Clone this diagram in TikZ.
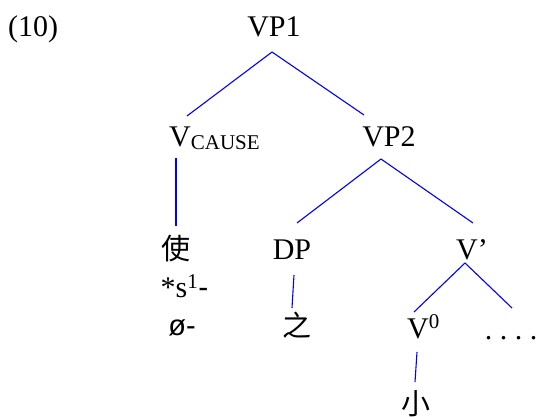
\documentclass[tikz,border=0pt]{standalone}
\usepackage{fontspec}
\setmainfont{Liberation Serif}
\newfontfamily\cjk{Noto Sans CJK SC}
\newfontfamily\arial{Liberation Sans}
\usepackage{tikz}
\usetikzlibrary{calc}
\usetikzlibrary{positioning}

\tikzset{
    lbl/.style={inner sep=0pt, anchor=base, font=\fontsize{30}{36}\selectfont},
    han/.style={inner sep=0pt, anchor=center, font=\fontsize{29}{36}\selectfont\cjk},
    branch/.style={draw=blue, line width=1.1pt}
}

\begin{document}
\begin{tikzpicture}[x=1pt, y=-1pt]
    \useasboundingbox (0,0) rectangle (539,417);

    % Example number
    \node[lbl, anchor=base west] (exnum) at (8,37) {(10)};

    % Phrases
    \node[lbl] (vp1) at (274,37) {VP1};
    \node[lbl, anchor=base west] (vcause) at (169,147) {V\raisebox{-3pt}{\fontsize{21}{24}\selectfont CAUSE}};
    \node[lbl] (vp2) at (389,147) {VP2};
    \node[lbl] (dp) at (292,260) {DP};
    \node[lbl] (vbar) at (472,260) {V’};
    \node[lbl] (v0) at (423.5,338) {V\textsuperscript{0}};
    \node[lbl] (dots) at (511,339) {.\ .\ .\ .};

    % Leaves
    \node[han] (shi) at (176,249) {使};
    \node[lbl] (sone) at (184.5,298) {*s\textsuperscript{1}{\arial -}};
    \node[lbl, font=\fontsize{29}{36}\selectfont\arial] (null) at (182,335) {ø-};
    \node[han] (zhi) at (297,325) {之};
    \node[han] (xiao) at (416,404) {小};

    % Branches
    \draw[branch] ($(vp1.base)+(-2,15)$) -- ($(vcause.base west)+(18,-31)$);
    \draw[branch] ($(vp1.base)+(-2,15)$) -- ($(vp2.base)+(-25,-32)$);
    \draw[branch] ($(vcause.base west)+(7,11)$) -- ($(shi.center)+(0,-23)$);
    \draw[branch] ($(vp2.base)+(-8,12)$) -- ($(dp.base)+(5,-37)$);
    \draw[branch] ($(vp2.base)+(-8,12)$) -- ($(vbar.base)+(1,-37)$);
    \draw[branch] ($(dp.base)+(2,15)$) -- ($(zhi.center)+(-5,-17)$);
    \draw[branch] ($(vbar.base)+(-7,3)$) -- ($(v0.base)+(-9.5,-26)$);
    \draw[branch] ($(vbar.base)+(-7,3)$) -- ($(dots.base)+(1,-31)$);
    \draw[branch] ($(v0.base)+(-6.5,14)$) -- ($(xiao.center)+(-1,-22)$);
\end{tikzpicture}
\end{document}
